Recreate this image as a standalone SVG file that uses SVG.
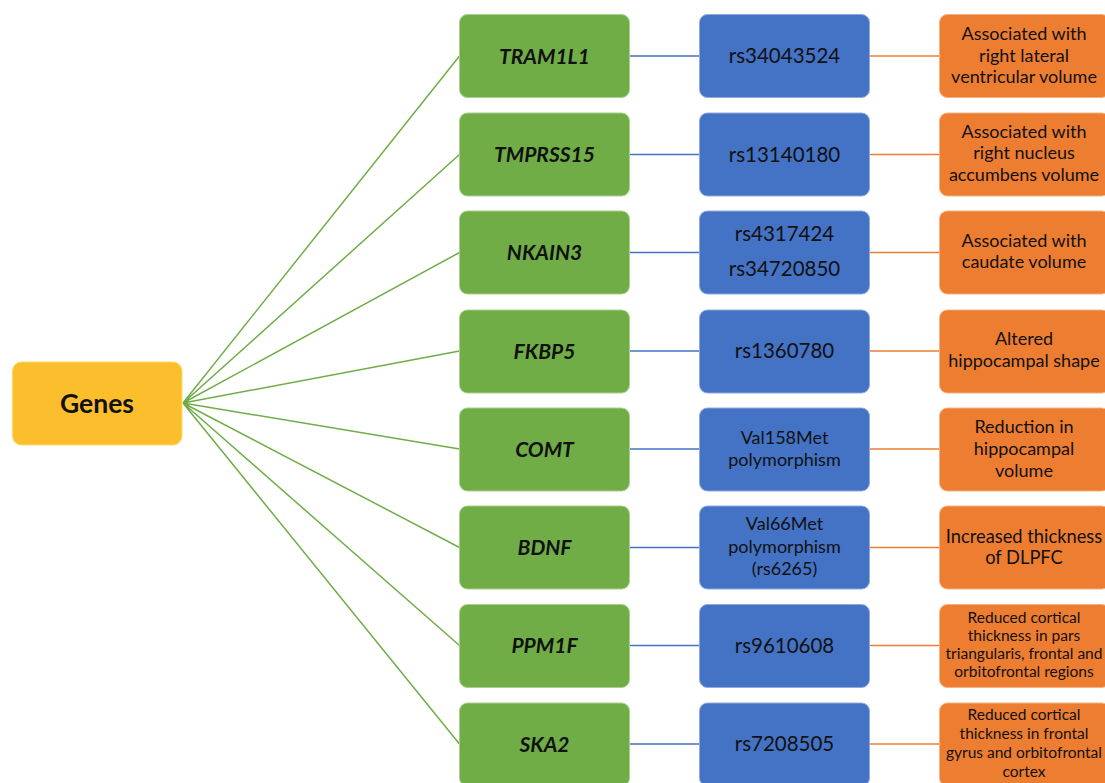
<svg xmlns="http://www.w3.org/2000/svg" width="1105" height="783" viewBox="0 0 1105 783">
<style>
.g{fill:#70AD47;stroke:#A9D18E;stroke-width:1}
.b{fill:#4472C4;stroke:#8FAADC;stroke-width:1}
.o{fill:#ED7D31;stroke:#F4B183;stroke-width:1}
.y{fill:#FBBF2D;stroke:#FFD966;stroke-width:1}
text{font-family:Lato,"Liberation Sans",sans-serif;fill:#111;text-anchor:middle}
.gt{font-size:21px;font-weight:bold;font-style:italic}
.bt{font-size:20.5px}
.bs{font-size:18px}
.ot{font-size:18px}
.os{font-size:15.5px}
.fan{stroke:#70AD47;stroke-width:1.5;fill:none}
.bl{stroke:#4472C4;stroke-width:1.5}
.ol{stroke:#ED7D31;stroke-width:1.5}
</style>
<rect width="1105" height="783" fill="#fff"/>
<g id="connectors">
<path class="fan" d="M183 403L459.5 56M183 403L459.5 154.5M183 403L459.5 252.5M183 403L459.5 351M183 403L459.5 449M183 403L459.5 547.5M183 403L459.5 645.5M183 403L459.5 744"/>
<path class="bl" d="M629.5 56H699.5M629.5 154.5H699.5M629.5 252.5H699.5M629.5 351H699.5M629.5 449H699.5M629.5 547.5H699.5M629.5 645.5H699.5M629.5 744H699.5"/>
<path class="ol" d="M869.5 56H939.5M869.5 154.5H939.5M869.5 252.5H939.5M869.5 351H939.5M869.5 449H939.5M869.5 547.5H939.5M869.5 645.5H939.5M869.5 744H939.5"/>
</g>
<g id="genes"><rect class="y" x="12.5" y="362" width="169.5" height="83" rx="9"/><text x="97" y="412.5" style="font-size:26.5px;font-weight:bold">Genes</text></g>

<g id="tram1l1"><rect class="g" x="459.5" y="14.5" width="170" height="83" rx="8"/><text class="gt" x="544.5" y="63.5">TRAM1L1</text></g>
<g id="rs34043524"><rect class="b" x="699.5" y="14.5" width="170" height="83" rx="8"/><text class="bt" x="784.5" y="63">rs34043524</text></g>
<g id="o1"><rect class="o" x="939.5" y="14.5" width="170" height="83" rx="8"/><text class="ot"><tspan x="1024" y="40">Associated with</tspan><tspan x="1024" y="62">right lateral</tspan><tspan x="1024" y="83">ventricular volume</tspan></text></g>

<g id="tmprss15"><rect class="g" x="459.5" y="113" width="170" height="83" rx="8"/><text class="gt" x="544.5" y="162">TMPRSS15</text></g>
<g id="rs13140180"><rect class="b" x="699.5" y="113" width="170" height="83" rx="8"/><text class="bt" x="784.5" y="161.5">rs13140180</text></g>
<g id="o2"><rect class="o" x="939.5" y="113" width="170" height="83" rx="8"/><text class="ot"><tspan x="1024" y="138">Associated with</tspan><tspan x="1024" y="159">right nucleus</tspan><tspan x="1024" y="181">accumbens volume</tspan></text></g>

<g id="nkain3"><rect class="g" x="459.5" y="211" width="170" height="83" rx="8"/><text class="gt" x="544.5" y="260">NKAIN3</text></g>
<g id="rs4317424"><rect class="b" x="699.5" y="211" width="170" height="83" rx="8"/><text class="bt"><tspan x="784.5" y="241">rs4317424</tspan><tspan x="784.5" y="276">rs34720850</tspan></text></g>
<g id="o3"><rect class="o" x="939.5" y="211" width="170" height="83" rx="8"/><text class="ot"><tspan x="1024" y="247">Associated with</tspan><tspan x="1024" y="268">caudate volume</tspan></text></g>

<g id="fkbp5"><rect class="g" x="459.5" y="310" width="170" height="83" rx="8"/><text class="gt" x="544.5" y="358.5">FKBP5</text></g>
<g id="rs1360780"><rect class="b" x="699.5" y="310" width="170" height="83" rx="8"/><text class="bt" x="784.5" y="358">rs1360780</text></g>
<g id="o4"><rect class="o" x="939.5" y="310" width="170" height="83" rx="8"/><text class="ot"><tspan x="1024" y="345">Altered</tspan><tspan x="1024" y="367">hippocampal shape</tspan></text></g>

<g id="comt"><rect class="g" x="459.5" y="408" width="170" height="83" rx="8"/><text class="gt" x="544.5" y="456.5">COMT</text></g>
<g id="val158met"><rect class="b" x="699.5" y="408" width="170" height="83" rx="8"/><text class="bs"><tspan x="784.5" y="444">Val158Met</tspan><tspan x="784.5" y="466">polymorphism</tspan></text></g>
<g id="o5"><rect class="o" x="939.5" y="408" width="170" height="83" rx="8"/><text class="ot"><tspan x="1024" y="433">Reduction in</tspan><tspan x="1024" y="455">hippocampal</tspan><tspan x="1024" y="477">volume</tspan></text></g>

<g id="bdnf"><rect class="g" x="459.5" y="506" width="170" height="83" rx="8"/><text class="gt" x="544.5" y="555">BDNF</text></g>
<g id="val66met"><rect class="b" x="699.5" y="506" width="170" height="83" rx="8"/><text class="bs"><tspan x="784.5" y="530">Val66Met</tspan><tspan x="784.5" y="553">polymorphism</tspan><tspan x="784.5" y="575">(rs6265)</tspan></text></g>
<g id="o6"><rect class="o" x="939.5" y="506" width="170" height="83" rx="8"/><text style="font-size:18.3px"><tspan x="1024" y="543">Increased thickness</tspan><tspan x="1024" y="564">of DLPFC</tspan></text></g>

<g id="ppm1f"><rect class="g" x="459.5" y="604.5" width="170" height="83" rx="8"/><text class="gt" x="544.5" y="653">PPM1F</text></g>
<g id="rs9610608"><rect class="b" x="699.5" y="604.5" width="170" height="83" rx="8"/><text class="bt" x="784.5" y="652.5">rs9610608</text></g>
<g id="o7"><rect class="o" x="939.5" y="604.5" width="170" height="83" rx="8"/><text class="os"><tspan x="1024" y="623">Reduced cortical</tspan><tspan x="1024" y="641">thickness in pars</tspan><tspan x="1024" y="659">triangularis, frontal and</tspan><tspan x="1024" y="677">orbitofrontal regions</tspan></text></g>

<g id="ska2"><rect class="g" x="459.5" y="703" width="170" height="83" rx="8"/><text class="gt" x="544.5" y="751.5">SKA2</text></g>
<g id="rs7208505"><rect class="b" x="699.5" y="703" width="170" height="83" rx="8"/><text class="bt" x="784.5" y="751">rs7208505</text></g>
<g id="o8"><rect class="o" x="939.5" y="703" width="170" height="83" rx="8"/><text class="os"><tspan x="1024" y="720">Reduced cortical</tspan><tspan x="1024" y="739">thickness in frontal</tspan><tspan x="1024" y="758">gyrus and orbitofrontal</tspan><tspan x="1024" y="777">cortex</tspan></text></g>
</svg>
